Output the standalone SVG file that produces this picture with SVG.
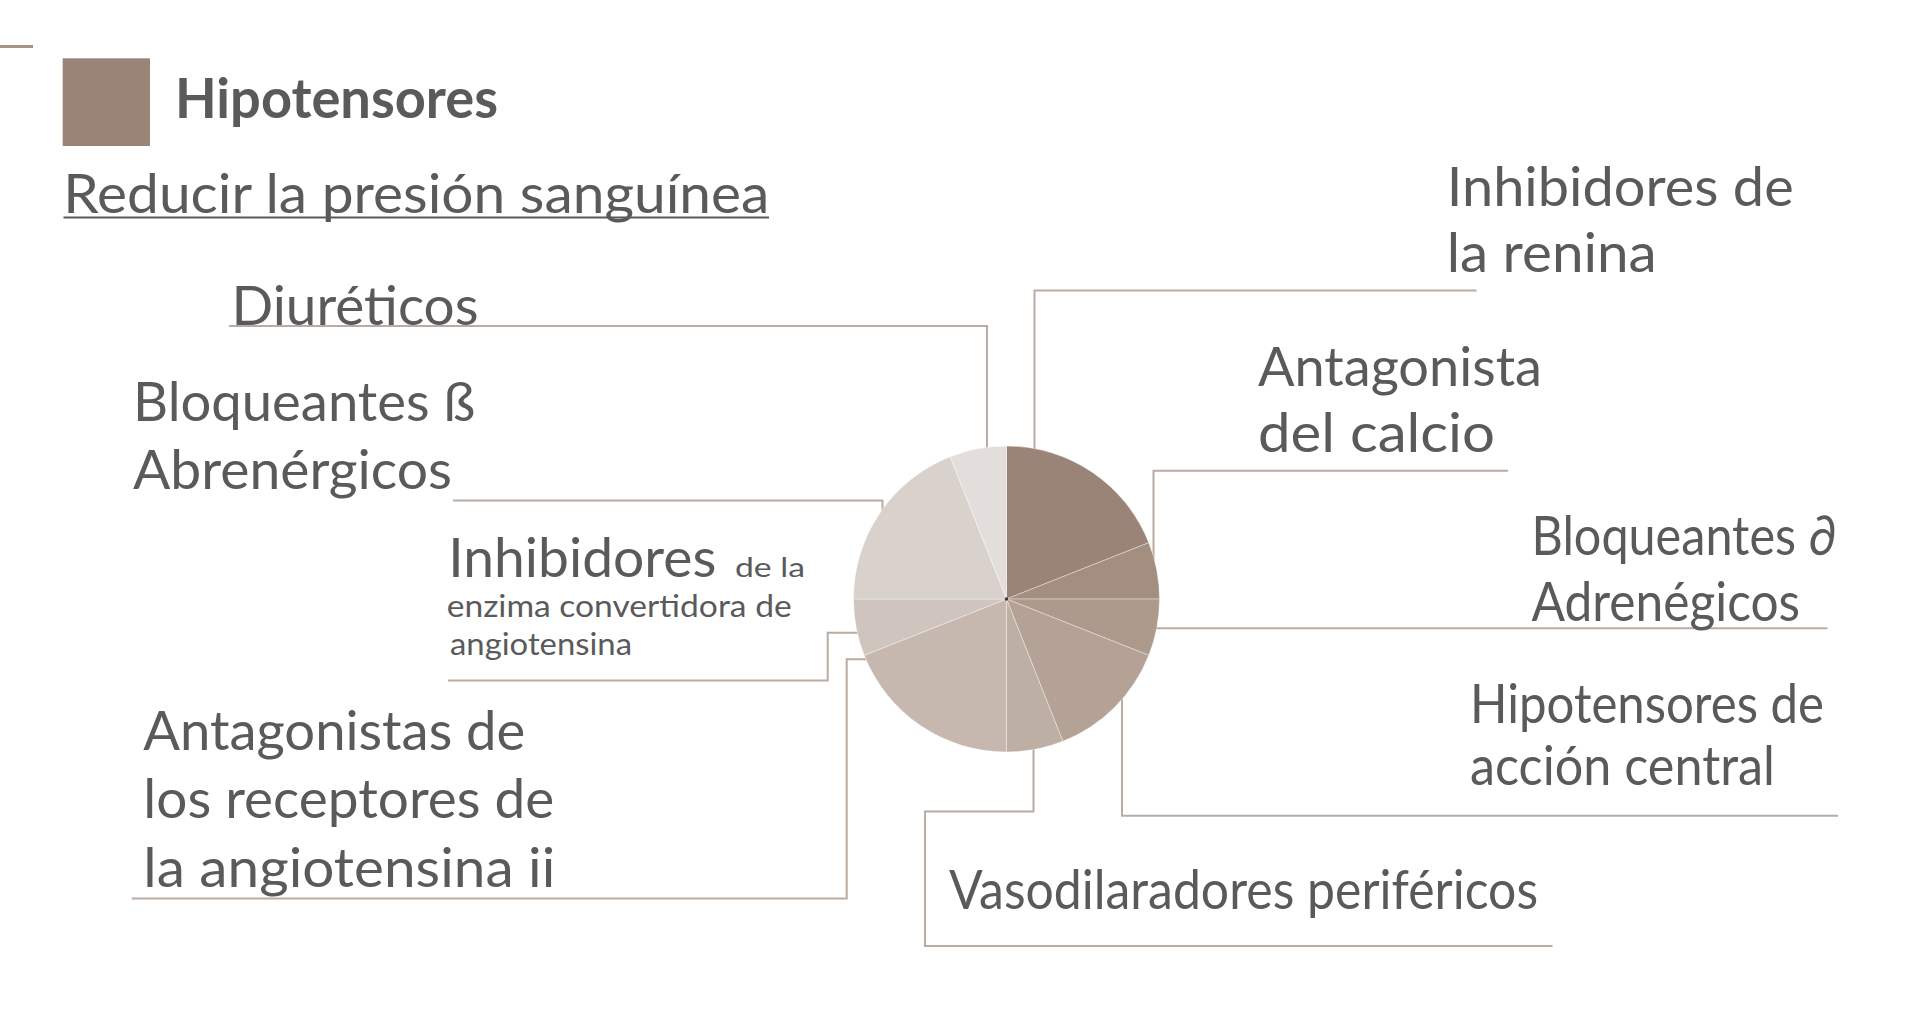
<svg xmlns="http://www.w3.org/2000/svg" width="1920" height="1035" viewBox="0 0 1920 1035">
<style>
.lbl{font-family:Lato,"Open Sans","Liberation Sans",sans-serif;fill:#5a5a5c;font-size:55px}
.sm{font-size:31px}
.xs{font-size:26px}
.conn{fill:none;stroke:#b9aca3;stroke-width:2}
.sl{stroke:#ffffff;stroke-width:0.8;stroke-opacity:0.45}
</style>
<rect width="1920" height="1035" fill="#ffffff"/>
<g id="accent"><rect x="0" y="45" width="33" height="3" fill="#a89486"/></g>
<g id="title">
<rect x="62.7" y="58.3" width="87.3" height="87.7" fill="#9a8477"/>
<text class="lbl" x="175" y="118.3" font-size="56" font-weight="bold" fill="#58585a" textLength="323" lengthAdjust="spacingAndGlyphs">Hipotensores</text>
</g>
<g id="subtitle">
<text class="lbl" x="63.3" y="213.3" font-size="56" textLength="706" lengthAdjust="spacingAndGlyphs">Reducir la presión sanguínea</text>
<line x1="63.5" y1="217.5" x2="769" y2="217.5" stroke="#5a5a5c" stroke-width="2"/>
</g>
<g id="connectors">
<path class="conn" d="M229,326 H987 V470"/>
<path class="conn" d="M453,500.5 H882.5 V530"/>
<path class="conn" d="M448,680.5 H827.7 V632.7 H875"/>
<path class="conn" d="M131.7,898.5 H846.7 V659.3 H885"/>
<path class="conn" d="M1476.5,290.5 H1034.5 V470"/>
<path class="conn" d="M1508,470.7 H1153.5 V570"/>
<path class="conn" d="M1140,628.3 H1827.5"/>
<path class="conn" d="M1838,815.7 H1122 V690"/>
<path class="conn" d="M1552.5,946 H925 V811.5 H1033.5 V735"/>
</g>
<g id="pie">
<path class="sl" fill="#9a8477" d="M1006.5,599 L1006.5,446 A153,153 0 0 1 1148.76,542.68 Z"/>
<path class="sl" fill="#a38e80" d="M1006.5,599 L1148.76,542.68 A153,153 0 0 1 1159.5,599 Z"/>
<path class="sl" fill="#ad9a8d" d="M1006.5,599 L1159.5,599 A153,153 0 0 1 1148.76,655.32 Z"/>
<path class="sl" fill="#b4a296" d="M1006.5,599 L1148.76,655.32 A153,153 0 0 1 1062.82,741.26 Z"/>
<path class="sl" fill="#beafa4" d="M1006.5,599 L1062.82,741.26 A153,153 0 0 1 1006.5,752 Z"/>
<path class="sl" fill="#c6b8ae" d="M1006.5,599 L1006.5,752 A153,153 0 0 1 864.24,655.32 Z"/>
<path class="sl" fill="#cfc5be" d="M1006.5,599 L864.24,655.32 A153,153 0 0 1 853.5,599 Z"/>
<path class="sl" fill="#d9d1cb" d="M1006.5,599 L853.5,599 A153,153 0 0 1 950.18,456.74 Z"/>
<path class="sl" fill="#e3dedb" d="M1006.5,599 L950.18,456.74 A153,153 0 0 1 1006.5,446 Z"/>
<circle cx="1006.5" cy="599" r="1.8" fill="#3a3a3a"/>
</g>
<g id="n-diureticos"><text class="lbl" x="231.5" y="325" textLength="247" lengthAdjust="spacingAndGlyphs">Diuréticos</text></g>
<g id="n-bloq-beta">
<text class="lbl" x="133" y="421" textLength="342" lengthAdjust="spacingAndGlyphs">Bloqueantes ß</text>
<text class="lbl" x="133" y="488.5" textLength="319" lengthAdjust="spacingAndGlyphs">Abrenérgicos</text>
</g>
<g id="n-ieca">
<text class="lbl" x="448.3" y="576.7" textLength="268" lengthAdjust="spacingAndGlyphs">Inhibidores</text>
<text class="lbl xs" x="735" y="576.7" textLength="70" lengthAdjust="spacingAndGlyphs">de la</text>
<text class="lbl sm" x="446.7" y="617" textLength="345" lengthAdjust="spacingAndGlyphs">enzima convertidora de</text>
<text class="lbl sm" x="450" y="655" textLength="182" lengthAdjust="spacingAndGlyphs">angiotensina</text>
</g>
<g id="n-ara">
<text class="lbl" x="143.3" y="750" textLength="382" lengthAdjust="spacingAndGlyphs">Antagonistas de</text>
<text class="lbl" x="143.3" y="818.3" textLength="411" lengthAdjust="spacingAndGlyphs">los receptores de</text>
<text class="lbl" x="143.3" y="886.7" textLength="412" lengthAdjust="spacingAndGlyphs">la angiotensina ii</text>
</g>
<g id="n-renina">
<text class="lbl" x="1446.7" y="205.5" textLength="347" lengthAdjust="spacingAndGlyphs">Inhibidores de</text>
<text class="lbl" x="1446.7" y="271.7" textLength="210" lengthAdjust="spacingAndGlyphs">la renina</text>
</g>
<g id="n-calcio">
<text class="lbl" x="1258" y="385.5" textLength="284" lengthAdjust="spacingAndGlyphs">Antagonista</text>
<text class="lbl" x="1258" y="452" textLength="237" lengthAdjust="spacingAndGlyphs">del calcio</text>
</g>
<g id="n-bloq-alfa">
<text class="lbl" x="1531.5" y="555" textLength="305" lengthAdjust="spacingAndGlyphs">Bloqueantes ∂</text>
<text class="lbl" x="1531.5" y="621" textLength="268.5" lengthAdjust="spacingAndGlyphs">Adrenégicos</text>
</g>
<g id="n-central">
<text class="lbl" x="1470" y="723" textLength="354" lengthAdjust="spacingAndGlyphs">Hipotensores de</text>
<text class="lbl" x="1470" y="785" textLength="305" lengthAdjust="spacingAndGlyphs">acción central</text>
</g>
<g id="n-vaso">
<text class="lbl" x="949" y="908.5" textLength="589" lengthAdjust="spacingAndGlyphs">Vasodilaradores periféricos</text>
</g>
</svg>
